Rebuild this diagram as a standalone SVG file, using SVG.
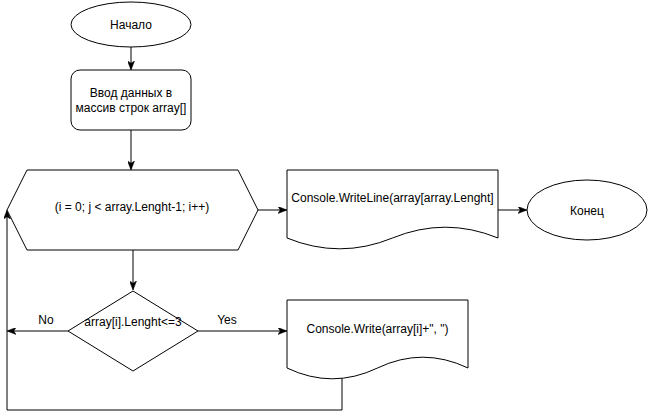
<svg xmlns="http://www.w3.org/2000/svg" width="648" height="419" viewBox="0 0 648 419">
<style>
.s{fill:#fff;stroke:#000;stroke-width:1}
.c{fill:none;stroke:#000;stroke-width:1}
text{font-family:"Liberation Sans",Arial,sans-serif;font-size:12px;fill:#000;text-anchor:middle}
</style>
<defs>
<marker id="ah" viewBox="0 0 9 7" refX="8.5" refY="3.5" markerWidth="9" markerHeight="7" markerUnits="userSpaceOnUse" orient="auto">
<path d="M0,0 L9,3.5 L0,7 L2.2,3.5 Z" fill="#000" stroke="#000" stroke-width="0.5"/>
</marker>
</defs>
<rect width="648" height="419" fill="#fff"/>
<g id="connectors">
<path class="c" d="M131,47 V69.5" marker-end="url(#ah)"/>
<path class="c" d="M131,130 V169.5" marker-end="url(#ah)"/>
<path class="c" d="M258,210 H286.5" marker-end="url(#ah)"/>
<path class="c" d="M498,210 H526.5" marker-end="url(#ah)"/>
<path class="c" d="M133,250 V289.5" marker-end="url(#ah)"/>
<path class="c" d="M68,331 H7.5" marker-end="url(#ah)"/>
<path class="c" d="M198,331 H286.5" marker-end="url(#ah)"/>
<path class="c" d="M342,377 V410 H7 V210.5" marker-end="url(#ah)"/>
<text x="46" y="324">No</text>
<text x="227" y="324">Yes</text>
</g>
<g id="start">
<ellipse class="s" cx="131" cy="24.5" rx="60" ry="22.5"/>
<text x="131" y="29">Начало</text>
</g>
<g id="input">
<rect class="s" x="71" y="70" width="120" height="60" rx="9"/>
<text x="131" y="97">Ввод данных в</text>
<text x="131" y="112">массив строк array[]</text>
</g>
<g id="loop">
<path class="s" d="M27,170 H238 L258,210 L238,250 H27 L7,210 Z"/>
<text x="132" y="211">(i = 0; j &lt; array.Lenght-1; i++)</text>
</g>
<g id="writeline">
<path class="s" d="M287,170 H498 V238 Q445.25,216.4 392.5,238 Q339.75,259.6 287,238 Z"/>
<text x="392.5" y="202">Console.WriteLine(array[array.Lenght]</text>
</g>
<g id="end">
<ellipse class="s" cx="587" cy="210" rx="60" ry="30"/>
<text x="587" y="215">Конец</text>
</g>
<g id="condition">
<path class="s" d="M133,291 L198,331 L133,371 L68,331 Z"/>
<text x="133" y="326">array[i].Lenght&lt;=3</text>
</g>
<g id="write">
<path class="s" d="M287,300 H468 V368 Q422.75,346.4 377.5,368 Q332.25,389.6 287,368 Z"/>
<text x="377.5" y="333">Console.Write(array[i]+", ")</text>
</g>
</svg>
